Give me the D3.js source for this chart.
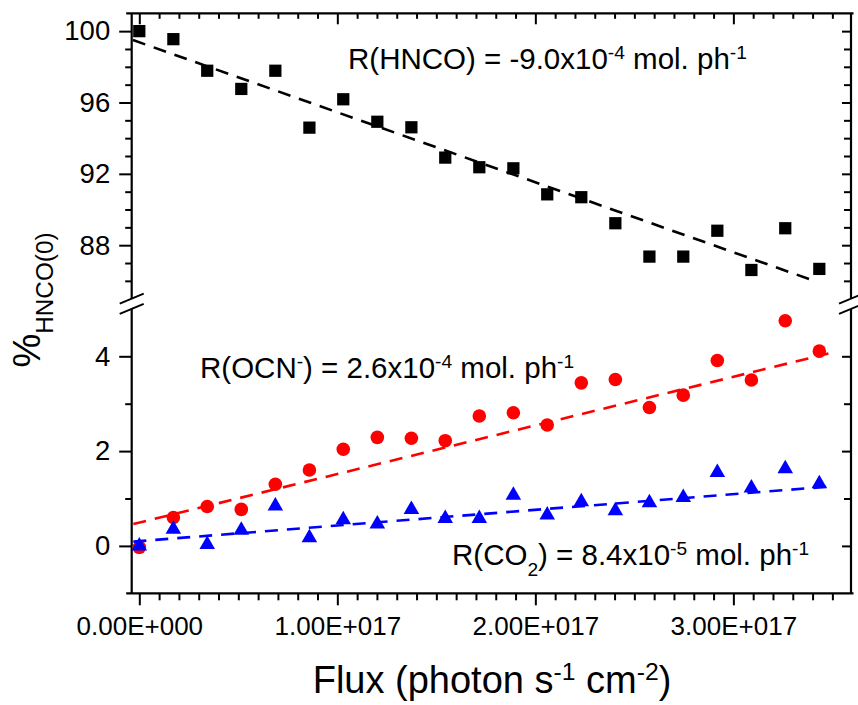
<!DOCTYPE html>
<html><head><meta charset="utf-8">
<script src="https://cdn.jsdelivr.net/npm/d3@7/dist/d3.min.js"></script>
<style>
body{margin:0;background:#fff}
svg{display:block}
text{font-family:"Liberation Sans",Arial,Helvetica,sans-serif;fill:#000}
</style>
</head><body>
<svg id="c" width="858" height="705"></svg>
<script>
// ---- data ----
const flux = [0, 0.172e17, 0.343e17, 0.515e17, 0.687e17, 0.859e17, 1.030e17, 1.202e17, 1.374e17, 1.545e17,
  1.717e17, 1.889e17, 2.060e17, 2.232e17, 2.404e17, 2.576e17, 2.747e17, 2.919e17, 3.091e17, 3.262e17, 3.434e17];
const hnco = [100.0, 99.55, 97.78, 96.76, 97.78, 94.59, 96.18, 94.92, 94.61, 92.91,
  92.37, 92.31, 90.85, 90.69, 89.23, 87.36, 87.36, 88.81, 86.61, 88.95, 86.67];
const ocn = [-0.03, 0.60, 0.83, 0.77, 1.30, 1.60, 2.04, 2.29, 2.27, 2.22,
  2.74, 2.81, 2.55, 3.44, 3.51, 2.92, 3.18, 3.91, 3.50, 4.75, 4.11];
const co2 = [0.00, 0.35, 0.03, 0.33, 0.84, 0.17, 0.55, 0.46, 0.77, 0.58,
  0.58, 1.07, 0.65, 0.93, 0.74, 0.91, 1.02, 1.55, 1.22, 1.63, 1.31];
// linear fits (end points)
const hncoFitX = [-0.032e17, 3.396e17], hncoFitY = [99.50, 86.05];
const ocnFitX  = [-0.030e17, 3.480e17], ocnFitY  = [0.46, 4.06];
const co2FitX  = [-0.030e17, 3.480e17], co2FitY  = [0.09, 1.25];
// ticks
const xMajor = [0, 1e17, 2e17, 3e17];
const yTopMajor = [88, 92, 96, 100];
const yBotMajor = [0, 2, 4];
const xDomain = [-0.0384e17, 3.594e17];
const yTopDomain = [85, 101];
const yBotDomain = [-1, 5];

// ---- layout ----
const svg = d3.select("#c");
const L = 131.7, R = 851, T = 13.3, B = 593.3;
const topBottom = 298.7, botTop = 308.9;
const x = d3.scaleLinear().domain(xDomain).range([L, R]);
const yT = d3.scaleLinear().domain(yTopDomain).range([topBottom, T]);
const yB = d3.scaleLinear().domain(yBotDomain).range([B, botTop]);

const xMinor = d3.range(-3, 36).map(i => i * 1e16).filter(v => v >= xDomain[0] && v <= xDomain[1] && !xMajor.some(m => Math.abs(m - v) < 1));
const yTopMinor = d3.range(85, 102).filter(v => !yTopMajor.includes(v) && v > 85 && v < 101);
const yBotMinor = [1, 3];

const fmtX = v => {
  if (v === 0) return "0.00E+000";
  const e = Math.floor(Math.log10(v));
  return (v / Math.pow(10, e)).toFixed(2) + "E+" + String(e).padStart(3, "0");
};

function styleAxis(g) {
  g.select(".domain").remove();
  g.selectAll(".tick line").attr("stroke", "#000").attr("stroke-width", 2);
}

// bottom axis
svg.append("g").attr("transform", `translate(0,${B})`)
  .call(d3.axisBottom(x).tickValues(xMajor).tickSize(12).tickPadding(11).tickFormat(fmtX))
  .call(styleAxis)
  .call(g => g.selectAll("text").attr("font-size", 26).attr("font-family", "Liberation Sans, Arial, sans-serif"));
svg.append("g").attr("transform", `translate(0,${B})`)
  .call(d3.axisBottom(x).tickValues(xMinor).tickSize(7).tickFormat(""))
  .call(styleAxis);
// top axis (inward)
svg.append("g").attr("transform", `translate(0,${T})`)
  .call(d3.axisTop(x).tickValues(xMajor).tickSize(-11).tickFormat(""))
  .call(styleAxis);
svg.append("g").attr("transform", `translate(0,${T})`)
  .call(d3.axisTop(x).tickValues(xMinor).tickSize(-5.5).tickFormat(""))
  .call(styleAxis);

// left axes
function leftAxis(scale, major, minor) {
  svg.append("g").attr("transform", `translate(${L},0)`)
    .call(d3.axisLeft(scale).tickValues(major).tickSize(12.5).tickPadding(9).tickFormat(d3.format("d")))
    .call(styleAxis)
    .call(g => g.selectAll("text").attr("font-size", 27.5).attr("font-family", "Liberation Sans, Arial, sans-serif"));
  svg.append("g").attr("transform", `translate(${L},0)`)
    .call(d3.axisLeft(scale).tickValues(minor).tickSize(6.5).tickFormat(""))
    .call(styleAxis);
}
leftAxis(yT, yTopMajor, yTopMinor);
leftAxis(yB, yBotMajor, yBotMinor);
// right axes (inward)
function rightAxis(scale, major, minor) {
  svg.append("g").attr("transform", `translate(${R},0)`)
    .call(d3.axisRight(scale).tickValues(major).tickSize(-9).tickFormat(""))
    .call(styleAxis);
  svg.append("g").attr("transform", `translate(${R},0)`)
    .call(d3.axisRight(scale).tickValues(minor).tickSize(-7).tickFormat(""))
    .call(styleAxis);
}
rightAxis(yT, yTopMajor, yTopMinor);
rightAxis(yB, yBotMajor, yBotMinor);

// frame lines
const frame = svg.append("g").attr("stroke", "#000").attr("stroke-width", 2.2).attr("fill", "none");
frame.append("line").attr("x1", L - 5.5).attr("x2", R + 2.5).attr("y1", B).attr("y2", B);
frame.append("line").attr("x1", L - 5.5).attr("x2", R + 2.5).attr("y1", T).attr("y2", T);
[L, R].forEach(xx => {
  frame.append("line").attr("x1", xx).attr("x2", xx).attr("y1", T).attr("y2", yT(yTopDomain[0]));
  frame.append("line").attr("x1", xx).attr("x2", xx).attr("y1", yB(yBotDomain[1])).attr("y2", B);
  [yT(yTopDomain[0]), yB(yBotDomain[1])].forEach(yy => {
    frame.append("line").attr("x1", xx - 12).attr("x2", xx + 12).attr("y1", yy + 5).attr("y2", yy - 5).attr("stroke-width", 2);
  });
});

// markers
const plot = svg.append("g");
plot.selectAll("path.sq").data(flux).join("path").attr("class", "sq")
  .attr("d", d3.symbol(d3.symbolSquare, 150))
  .attr("transform", (d, i) => `translate(${x(d)},${yT(hnco[i])})`).attr("fill", "#000");
plot.selectAll("path.ci").data(flux).join("path").attr("class", "ci")
  .attr("d", d3.symbol(d3.symbolCircle, 145))
  .attr("transform", (d, i) => `translate(${x(d)},${yB(ocn[i])})`).attr("fill", "#ff0000");
plot.selectAll("path.tr").data(flux).join("path").attr("class", "tr")
  .attr("d", d3.symbol(d3.symbolTriangle, 105))
  .attr("transform", (d, i) => `translate(${x(d)},${yB(co2[i])})`).attr("fill", "#0000ff");

// fit lines
function fit(xs, ys, scale, color) {
  const line = d3.line().x(d => x(d[0])).y(d => scale(d[1]));
  plot.append("path").datum(xs.map((v, i) => [v, ys[i]]))
    .attr("d", line).attr("fill", "none").attr("stroke", color)
    .attr("stroke-width", 2.6).attr("stroke-dasharray", "13,9");
}
fit(hncoFitX, hncoFitY, yT, "#000");
fit(ocnFitX, ocnFitY, yB, "#ff0000");
fit(co2FitX, co2FitY, yB, "#0000ff");

// rich text helper
function rich(xp, yp, parts, size, opts = {}) {
  const t = svg.append("text").attr("x", xp).attr("y", yp).attr("font-size", size)
    .attr("text-anchor", opts.anchor || "start");
  if (opts.transform) t.attr("transform", opts.transform);
  let shift = 0;
  parts.forEach(p => {
    const s = t.append("tspan").text(p.t);
    let target = 0, fs = size;
    if (p.s === "sup") { target = -size * 0.33; fs = size * 0.65; }
    if (p.s === "sub") { target = size * (opts.subShift || 0.38); fs = size * (opts.subSize || 0.65); }
    s.attr("font-size", fs).attr("dy", target - shift);
    shift = target;
  });
  return t;
}

rich(348, 69, [{t: "R(HNCO) = -9.0x10"}, {t: "-4", s: "sup"}, {t: " mol. ph"}, {t: "-1", s: "sup"}], 29.5);
rich(200, 378, [{t: "R(OCN"}, {t: "-", s: "sup"}, {t: ") = 2.6x10"}, {t: "-4", s: "sup"}, {t: " mol. ph"}, {t: "-1", s: "sup"}], 29.5);
rich(452, 565, [{t: "R(CO"}, {t: "2", s: "sub"}, {t: ") = 8.4x10"}, {t: "-5", s: "sup"}, {t: " mol. ph"}, {t: "-1", s: "sup"}], 29.5);

// axis titles
rich(492, 693, [{t: "Flux (photon s"}, {t: "-1", s: "sup"}, {t: " cm"}, {t: "-2", s: "sup"}, {t: ")"}], 38, {anchor: "middle"});
rich(0, 0, [{t: "%"}, {t: "HNCO(0)", s: "sub"}], 38, {anchor: "middle", transform: "translate(40,300) rotate(-90)", subShift: 0.34, subSize: 0.64});
</script>
</body></html>
